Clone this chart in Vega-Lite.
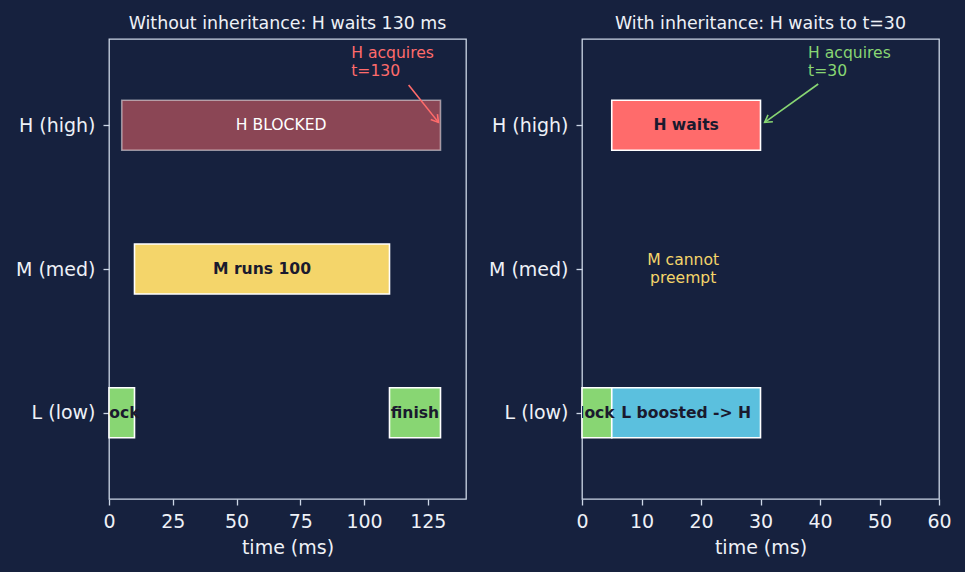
{
  "$schema": "https://vega.github.io/schema/vega-lite/v6.json",
  "background": "#16213e",
  "padding": {"left": 14, "top": 13, "right": 30, "bottom": 20},
  "config": {
    "font": "DejaVu Sans",
    "view": {"stroke": "#ccd6e6", "strokeWidth": 1.3},
    "axis": {"domain": false, "grid": false, "tickColor": "#ccd6e6", "tickSize": 6, "tickWidth": 1.3, "labelColor": "#eef1f7", "labelFont": "DejaVu Sans", "labelFontSize": 19, "labelPadding": 8, "titleColor": "#eef1f7", "titleFont": "DejaVu Sans", "titleFontSize": 19, "titleFontWeight": "normal", "titlePadding": 7},
    "axisX": {"labelPadding": 7, "labelFlush": false},
    "title": {"color": "#eef1f7", "font": "DejaVu Sans", "fontSize": 17.4, "fontWeight": "normal", "offset": 7},
    "concat": {"spacing": 20}
  },
  "resolve": {"scale": {"x": "independent", "y": "independent"}},
  "datasets": {
    "left": [
      {"lane": 2, "start": 5, "end": 130, "label": "H BLOCKED", "kind": "blocked"},
      {"lane": 1, "start": 10, "end": 110, "label": "M runs 100", "kind": "m"},
      {"lane": 0, "start": 0, "end": 10, "label": "lock", "kind": "lock"},
      {"lane": 0, "start": 110, "end": 130, "label": "finish", "kind": "lock"}
    ],
    "right": [
      {"lane": 2, "start": 5, "end": 30, "label": "H waits", "kind": "hwait"},
      {"lane": 0, "start": 0, "end": 5, "label": "lock", "kind": "lock"},
      {"lane": 0, "start": 5, "end": 30, "label": "L boosted -> H", "kind": "boost"}
    ],
    "notesLeft": [{"x": 95, "y": 2.55, "text": "H acquires\nt=130"}],
    "notesRight": [{"x": 38, "y": 2.55, "text": "H acquires\nt=30"}],
    "midRight": [{"x": 17, "y": 1, "text": "M cannot\npreempt"}],
    "arrowLeft": [{"x": 117.5, "y": 2.28, "tx": 129.2, "ty": 2.02}],
    "arrowRight": [{"x": 39.7, "y": 2.287, "tx": 30.7, "ty": 2.02}]
  },
  "hconcat": [
    {
      "title": "Without inheritance: H waits 130 ms",
      "width": 357,
      "height": 460,
      "layer": [
        {
          "data": {"name": "left"},
          "transform": [{"filter": "datum.kind !== 'blocked'"}],
          "mark": {"type": "bar", "orient": "horizontal", "height": 50, "stroke": "white", "strokeWidth": 1.6},
          "encoding": {
            "x": {"field": "start", "type": "quantitative", "scale": {"domain": [0, 140], "nice": false, "zero": false, "padding": 0}, "axis": {"values": [0, 25, 50, 75, 100, 125], "title": "time (ms)"}},
            "x2": {"field": "end"},
            "y": {"field": "lane", "type": "quantitative", "scale": {"domain": [-0.6, 2.6], "nice": false, "zero": false, "padding": 0}, "axis": {"values": [0, 1, 2], "title": null, "labelExpr": "datum.value == 2 ? 'H (high)' : datum.value == 1 ? 'M (med)' : 'L (low)'"}},
            "color": {"field": "kind", "type": "nominal", "scale": {"domain": ["m", "lock", "hwait", "boost"], "range": ["#f4d56a", "#88d673", "#ff6b6b", "#5bc0de"]}, "legend": null}
          }
        },
        {
          "data": {"name": "left"},
          "transform": [{"filter": "datum.kind === 'blocked'"}],
          "mark": {"type": "bar", "orient": "horizontal", "height": 50, "fill": "#ff6b6b", "fillOpacity": 0.5, "stroke": "white", "strokeOpacity": 0.5, "strokeWidth": 1.6},
          "encoding": {
            "x": {"field": "start", "type": "quantitative", "scale": {"domain": [0, 140], "nice": false, "zero": false, "padding": 0}},
            "x2": {"field": "end"},
            "y": {"field": "lane", "type": "quantitative", "scale": {"domain": [-0.6, 2.6], "nice": false, "zero": false, "padding": 0}}
          }
        },
        {
          "data": {"name": "left"},
          "transform": [{"filter": "datum.kind !== 'blocked'"}, {"calculate": "(datum.start + datum.end) / 2", "as": "mid"}],
          "mark": {"type": "text", "fontWeight": "bold", "fontSize": 15.6, "color": "#1a1a2e", "clip": true},
          "encoding": {
            "x": {"field": "mid", "type": "quantitative", "scale": {"domain": [0, 140], "nice": false, "zero": false, "padding": 0}},
            "y": {"field": "lane", "type": "quantitative", "scale": {"domain": [-0.6, 2.6], "nice": false, "zero": false, "padding": 0}},
            "text": {"field": "label"}
          }
        },
        {
          "data": {"name": "left"},
          "transform": [{"filter": "datum.kind === 'blocked'"}, {"calculate": "(datum.start + datum.end) / 2", "as": "mid"}],
          "mark": {"type": "text", "fontSize": 15.6, "color": "#ffffff"},
          "encoding": {
            "x": {"field": "mid", "type": "quantitative", "scale": {"domain": [0, 140], "nice": false, "zero": false, "padding": 0}},
            "y": {"field": "lane", "type": "quantitative", "scale": {"domain": [-0.6, 2.6], "nice": false, "zero": false, "padding": 0}},
            "text": {"field": "label"}
          }
        },
        {
          "data": {"name": "notesLeft"},
          "mark": {"type": "text", "fontSize": 15.6, "color": "#ff6b6b", "align": "left", "baseline": "top", "lineBreak": "\n", "lineHeight": 18},
          "encoding": {
            "x": {"field": "x", "type": "quantitative", "scale": {"domain": [0, 140], "nice": false, "zero": false, "padding": 0}},
            "y": {"field": "y", "type": "quantitative", "scale": {"domain": [-0.6, 2.6], "nice": false, "zero": false, "padding": 0}},
            "text": {"field": "text"}
          }
        },
        {
          "data": {"name": "arrowLeft"},
          "mark": {"type": "rule", "color": "#ff6b6b", "strokeWidth": 1.6},
          "encoding": {
            "x": {"field": "x", "type": "quantitative", "scale": {"domain": [0, 140], "nice": false, "zero": false, "padding": 0}},
            "y": {"field": "y", "type": "quantitative", "scale": {"domain": [-0.6, 2.6], "nice": false, "zero": false, "padding": 0}},
            "x2": {"field": "tx"},
            "y2": {"field": "ty"}
          }
        },
        {
          "data": {"name": "arrowLeft"},
          "mark": {"type": "point", "shape": "M -1 -0.6 L 0 0 L -1 0.6", "filled": false, "stroke": "#ff6b6b", "strokeWidth": 1.6, "size": 200, "angle": 51.9, "opacity": 1},
          "encoding": {
            "x": {"field": "tx", "type": "quantitative", "scale": {"domain": [0, 140], "nice": false, "zero": false, "padding": 0}},
            "y": {"field": "ty", "type": "quantitative", "scale": {"domain": [-0.6, 2.6], "nice": false, "zero": false, "padding": 0}}
          }
        }
      ]
    },
    {
      "title": "With inheritance: H waits to t=30",
      "width": 357,
      "height": 460,
      "layer": [
        {
          "data": {"name": "right"},
          "mark": {"type": "bar", "orient": "horizontal", "height": 50, "stroke": "white", "strokeWidth": 1.6},
          "encoding": {
            "x": {"field": "start", "type": "quantitative", "scale": {"domain": [0, 60], "nice": false, "zero": false, "padding": 0}, "axis": {"values": [0, 10, 20, 30, 40, 50, 60], "title": "time (ms)"}},
            "x2": {"field": "end"},
            "y": {"field": "lane", "type": "quantitative", "scale": {"domain": [-0.6, 2.6], "nice": false, "zero": false, "padding": 0}, "axis": {"values": [0, 1, 2], "title": null, "labelExpr": "datum.value == 2 ? 'H (high)' : datum.value == 1 ? 'M (med)' : 'L (low)'"}},
            "color": {"field": "kind", "type": "nominal", "scale": {"domain": ["m", "lock", "hwait", "boost"], "range": ["#f4d56a", "#88d673", "#ff6b6b", "#5bc0de"]}, "legend": null}
          }
        },
        {
          "data": {"name": "right"},
          "transform": [{"calculate": "(datum.start + datum.end) / 2", "as": "mid"}],
          "mark": {"type": "text", "fontWeight": "bold", "fontSize": 15.6, "color": "#1a1a2e", "clip": true},
          "encoding": {
            "x": {"field": "mid", "type": "quantitative", "scale": {"domain": [0, 60], "nice": false, "zero": false, "padding": 0}},
            "y": {"field": "lane", "type": "quantitative", "scale": {"domain": [-0.6, 2.6], "nice": false, "zero": false, "padding": 0}},
            "text": {"field": "label"}
          }
        },
        {
          "data": {"name": "midRight"},
          "mark": {"type": "text", "fontSize": 15.6, "color": "#f4d56a", "align": "center", "baseline": "middle", "lineBreak": "\n", "lineHeight": 18, "dy": -9},
          "encoding": {
            "x": {"field": "x", "type": "quantitative", "scale": {"domain": [0, 60], "nice": false, "zero": false, "padding": 0}},
            "y": {"field": "y", "type": "quantitative", "scale": {"domain": [-0.6, 2.6], "nice": false, "zero": false, "padding": 0}},
            "text": {"field": "text"}
          }
        },
        {
          "data": {"name": "notesRight"},
          "mark": {"type": "text", "fontSize": 15.6, "color": "#88d673", "align": "left", "baseline": "top", "lineBreak": "\n", "lineHeight": 18},
          "encoding": {
            "x": {"field": "x", "type": "quantitative", "scale": {"domain": [0, 60], "nice": false, "zero": false, "padding": 0}},
            "y": {"field": "y", "type": "quantitative", "scale": {"domain": [-0.6, 2.6], "nice": false, "zero": false, "padding": 0}},
            "text": {"field": "text"}
          }
        },
        {
          "data": {"name": "arrowRight"},
          "mark": {"type": "rule", "color": "#88d673", "strokeWidth": 1.6},
          "encoding": {
            "x": {"field": "x", "type": "quantitative", "scale": {"domain": [0, 60], "nice": false, "zero": false, "padding": 0}},
            "y": {"field": "y", "type": "quantitative", "scale": {"domain": [-0.6, 2.6], "nice": false, "zero": false, "padding": 0}},
            "x2": {"field": "tx"},
            "y2": {"field": "ty"}
          }
        },
        {
          "data": {"name": "arrowRight"},
          "mark": {"type": "point", "shape": "M -1 -0.6 L 0 0 L -1 0.6", "filled": false, "stroke": "#88d673", "strokeWidth": 1.6, "size": 200, "angle": 144.9, "opacity": 1},
          "encoding": {
            "x": {"field": "tx", "type": "quantitative", "scale": {"domain": [0, 60], "nice": false, "zero": false, "padding": 0}},
            "y": {"field": "ty", "type": "quantitative", "scale": {"domain": [-0.6, 2.6], "nice": false, "zero": false, "padding": 0}}
          }
        }
      ]
    }
  ]
}
